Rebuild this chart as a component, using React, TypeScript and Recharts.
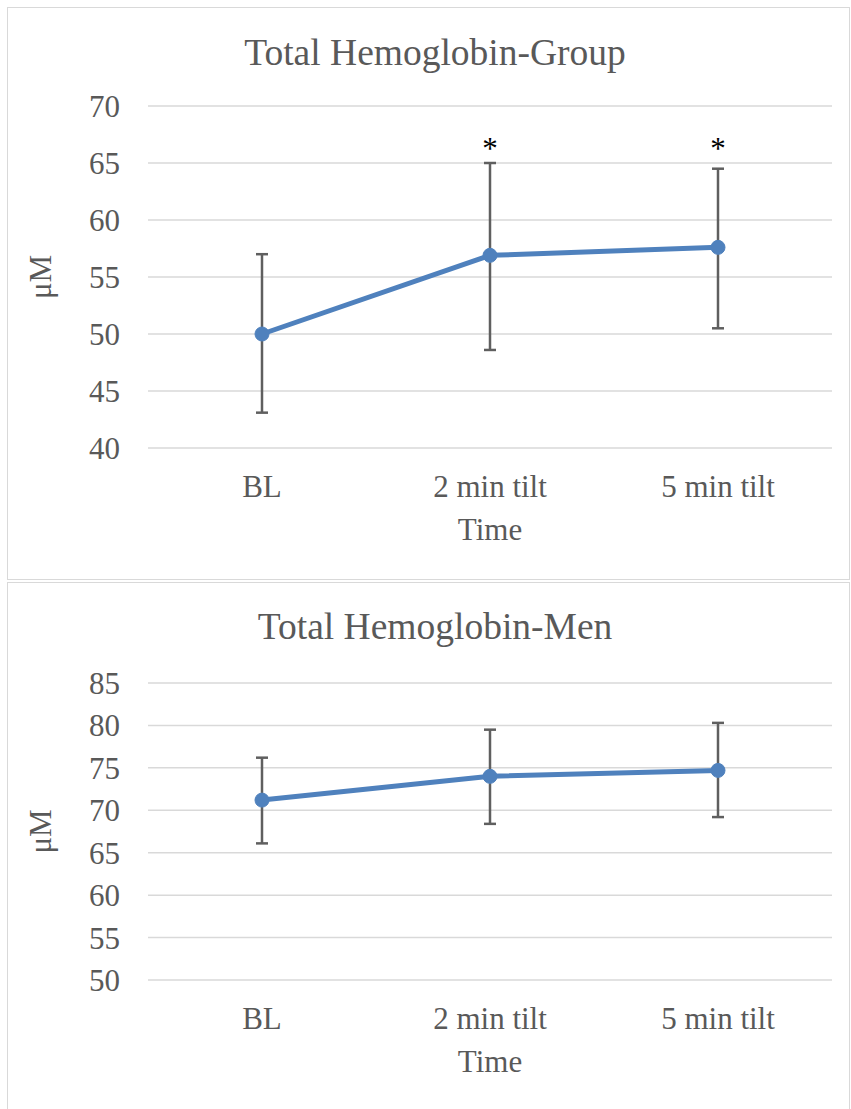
import React from 'react';
import {
  LineChart,
  Line,
  XAxis,
  YAxis,
  CartesianGrid,
  ErrorBar,
  ReferenceDot,
} from 'recharts';

const categories = ['BL', '2 min tilt', '5 min tilt'];

const groupMean = [50.0, 56.9, 57.6];
const groupLow = [43.1, 48.6, 50.5];
const groupHigh = [57.0, 65.0, 64.5];
const groupTicks = [40, 45, 50, 55, 60, 65, 70];
const groupStars = ['2 min tilt', '5 min tilt'];
const groupStarLevel = 66.5;

const menMean = [71.2, 74.0, 74.7];
const menLow = [66.1, 68.4, 69.2];
const menHigh = [76.2, 79.5, 80.3];
const menTicks = [50, 55, 60, 65, 70, 75, 80, 85];

const FONT = '"Liberation Serif", "Times New Roman", serif';
const TEXT = '#595959';

function buildRows(mean: number[], low: number[], high: number[]) {
  return categories.map((c, i) => ({
    name: c,
    value: mean[i],
    err: [+(mean[i] - low[i]).toFixed(2), +(high[i] - mean[i]).toFixed(2)],
  }));
}

type PanelProps = {
  top: number;
  height: number;
  titleTop: number;
  plotTop: number;
  plotHeight: number;
  title: string;
  mean: number[];
  low: number[];
  high: number[];
  ticks: number[];
  stars?: string[];
  starLevel?: number;
};

function Panel({ top, height, titleTop, plotTop, plotHeight, title, mean, low, high, ticks, stars = [], starLevel = 0 }: PanelProps) {
  const rows = buildRows(mean, low, high);
  const xAxisHeight = 90;
  return (
    <div style={{ position: 'absolute', left: 0, top, width: 851, height }}>
      <div
        style={{
          position: 'absolute',
          left: 0,
          top: titleTop,
          width: 870,
          textAlign: 'center',
          fontFamily: FONT,
          fontSize: 37.5,
          lineHeight: '1',
          color: TEXT,
          whiteSpace: 'nowrap',
        }}
      >
        {title}
      </div>
      <div style={{ position: 'absolute', left: 0, top: 0 }}>
        <LineChart
          width={851}
          height={height}
          data={rows}
          margin={{ top: plotTop, right: 19, bottom: height - plotTop - plotHeight - xAxisHeight, left: 0 }}
        >
          <CartesianGrid horizontal vertical={false} stroke="#d9d9d9" strokeWidth={1.5} />
          <XAxis
            dataKey="name"
            type="category"
            padding={{ left: 114, right: 114 }}
            axisLine={false}
            tickLine={false}
            tickSize={0}
            tickMargin={27}
            height={xAxisHeight}
            tick={{ fill: TEXT, fontSize: 31, fontFamily: FONT }}
            label={(p: any) => {
              const vb = p.viewBox || {};
              return (
                <text
                  x={vb.x + vb.width / 2}
                  y={vb.y + 92}
                  textAnchor="middle"
                  fill={TEXT}
                  fontSize={31}
                  fontFamily={FONT}
                >
                  Time
                </text>
              );
            }}
          />
          <YAxis
            type="number"
            domain={[ticks[0], ticks[ticks.length - 1]]}
            ticks={ticks}
            interval={0}
            width={148}
            axisLine={false}
            tickLine={false}
            tickSize={0}
            tickMargin={28}
            tick={{ fill: TEXT, fontSize: 31, fontFamily: FONT }}
            label={(p: any) => {
              const vb = p.viewBox || {};
              const cx = 40;
              const cy = vb.y + vb.height / 2;
              return (
                <text
                  x={cx}
                  y={cy}
                  transform={`rotate(-90, ${cx}, ${cy})`}
                  textAnchor="middle"
                  dominantBaseline="central"
                  fill={TEXT}
                  fontSize={31}
                  fontFamily={FONT}
                >
                  μM
                </text>
              );
            }}
          />
          <Line
            type="linear"
            dataKey="value"
            stroke="#4f81bd"
            strokeWidth={5}
            dot={{ r: 7, fill: '#4f81bd', stroke: '#4f81bd', strokeWidth: 1 }}
            activeDot={false}
            isAnimationActive={false}
          >
            <ErrorBar dataKey="err" direction="y" width={6} stroke="#5f5f5f" strokeWidth={2.5} isAnimationActive={false} />
          </Line>
          {stars.map((s) => (
            <ReferenceDot
              key={s}
              x={s}
              y={starLevel}
              r={0}
              fill="none"
              stroke="none"
              label={(p: any) => {
                const vb = p.viewBox || {};
                const cx = vb.x + (vb.width || 0) / 2;
                const cy = vb.y + (vb.height || 0) / 2;
                return (
                  <text x={cx} y={cy + 13} textAnchor="middle" fill="#000" fontSize={31} fontFamily={FONT}>
                    *
                  </text>
                );
              }}
            />
          ))}
        </LineChart>
      </div>
    </div>
  );
}

export default function App() {
  return (
    <div style={{ position: 'absolute', left: 0, top: 0, width: 851, height: 1109, overflow: 'hidden', background: '#fff' }}>
      <div
        style={{
          position: 'absolute',
          left: 7,
          top: 7,
          width: 841,
          height: 571,
          border: '1.5px solid #d9d9d9',
        }}
      />
      <div
        style={{
          position: 'absolute',
          left: 7,
          top: 582,
          width: 841,
          height: 600,
          border: '1.5px solid #d9d9d9',
        }}
      />
      <Panel
        top={0}
        height={580}
        titleTop={33.5}
        plotTop={106}
        plotHeight={342}
        title="Total Hemoglobin-Group"
        mean={groupMean}
        low={groupLow}
        high={groupHigh}
        ticks={groupTicks}
        stars={groupStars}
        starLevel={groupStarLevel}
      />
      <Panel
        top={583}
        height={526}
        titleTop={25}
        plotTop={100}
        plotHeight={297}
        title="Total Hemoglobin-Men"
        mean={menMean}
        low={menLow}
        high={menHigh}
        ticks={menTicks}
      />
    </div>
  );
}
